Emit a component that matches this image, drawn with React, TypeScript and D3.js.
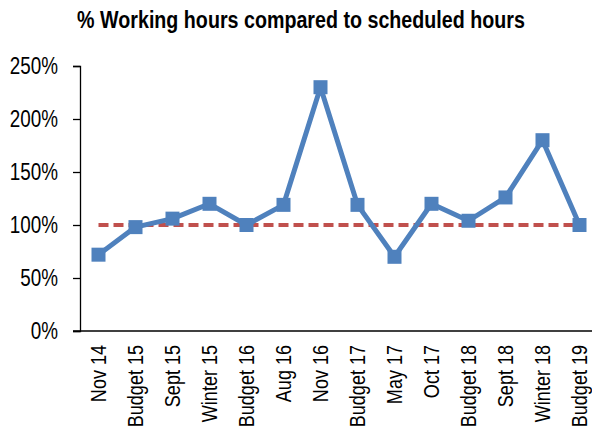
import React, { useRef, useEffect } from 'react';
import * as d3 from 'd3';

const categories = [
  'Nov 14', 'Budget 15', 'Sept 15', 'Winter 15', 'Budget 16', 'Aug 16', 'Nov 16',
  'Budget 17', 'May 17', 'Oct 17', 'Budget 18', 'Sept 18', 'Winter 18', 'Budget 19',
];
const workingPct = [72, 98, 106, 120, 100, 119, 230, 119, 70, 120, 104, 126, 180, 100];
const targetPct = 100;
const yTicks = [0, 50, 100, 150, 200, 250];

const W = 592;
const H = 436;

const App = () => {
  const svgRef = useRef<SVGSVGElement>(null);

  useEffect(() => {
    const svg = d3.select(svgRef.current);
    svg.selectAll('*').remove();

    const left = 80;
    const top = 66;
    const bottom = 331;
    const step = 37;
    // the original uses a narrow font; squeeze the regular one along the reading direction
    const sx = 0.82;

    const x = d3.scaleBand<string>()
      .domain(categories)
      .range([left, left + step * categories.length]);
    const y = d3.scaleLinear().domain([0, 250]).range([bottom, top]);
    const cx = (c: string) => (x(c) as number) + x.bandwidth() / 2;

    const font = '"Liberation Sans", Arial, sans-serif';

    // title
    svg.append('text')
      .attr('transform', `scale(${sx},1)`)
      .attr('x', 301 / sx)
      .attr('y', 28)
      .attr('text-anchor', 'middle')
      .style('font-family', font)
      .style('font-weight', 'bold')
      .style('font-size', '24px')
      .text('% Working hours compared to scheduled hours');

    // y axis
    const yAxis = svg.append('g')
      .attr('transform', `translate(${left},0)`)
      .call(d3.axisLeft(y).tickValues(yTicks).tickSize(7).tickFormat(d => `${d}%`));
    yAxis.select('.domain').attr('stroke', '#000').attr('stroke-width', 1.3);
    yAxis.selectAll('.tick line').attr('stroke', '#000').attr('stroke-width', 1.3);
    yAxis.selectAll('.tick text')
      .attr('transform', `scale(${sx},1)`)
      .attr('x', -22 / sx)
      .style('font-family', font)
      .style('font-size', '23px')
      .attr('fill', '#000');

    // x axis
    const xAxis = svg.append('g')
      .attr('transform', `translate(0,${bottom})`)
      .call(d3.axisBottom(x).tickSize(0).tickSizeOuter(0));
    xAxis.select('.domain').attr('stroke', '#000').attr('stroke-width', 1.3)
      .attr('d', `M${left - 7},0H${W}`);
    xAxis.selectAll('.tick text')
      .style('font-family', font)
      .style('font-size', '22px')
      .attr('fill', '#000')
      .attr('text-anchor', 'end')
      .attr('transform', `rotate(-90) scale(${sx},1)`)
      .attr('x', -14 / sx)
      .attr('y', 0)
      .attr('dy', '0.36em');

    // target line
    svg.append('line')
      .attr('x1', cx(categories[0]))
      .attr('x2', cx(categories[categories.length - 1]))
      .attr('y1', y(targetPct))
      .attr('y2', y(targetPct))
      .attr('stroke', '#C0504D')
      .attr('stroke-width', 4)
      .attr('stroke-dasharray', '10,5');

    // working hours line
    const line = d3.line<number>()
      .x((_, i) => cx(categories[i]))
      .y(d => y(d));
    svg.append('path')
      .datum(workingPct)
      .attr('d', line)
      .attr('fill', 'none')
      .attr('stroke', '#4F81BD')
      .attr('stroke-width', 5)
      .attr('stroke-linejoin', 'round');

    svg.selectAll('rect.marker')
      .data(workingPct)
      .enter()
      .append('rect')
      .attr('class', 'marker')
      .attr('x', (_, i) => cx(categories[i]) - 7)
      .attr('y', d => y(d) - 7)
      .attr('width', 14)
      .attr('height', 14)
      .attr('fill', '#4F81BD');
  }, []);

  return (
    <svg
      ref={svgRef}
      width={W}
      height={H}
      style={{ position: 'absolute', left: 0, top: 0, background: '#fff' }}
    />
  );
};

export default App;
